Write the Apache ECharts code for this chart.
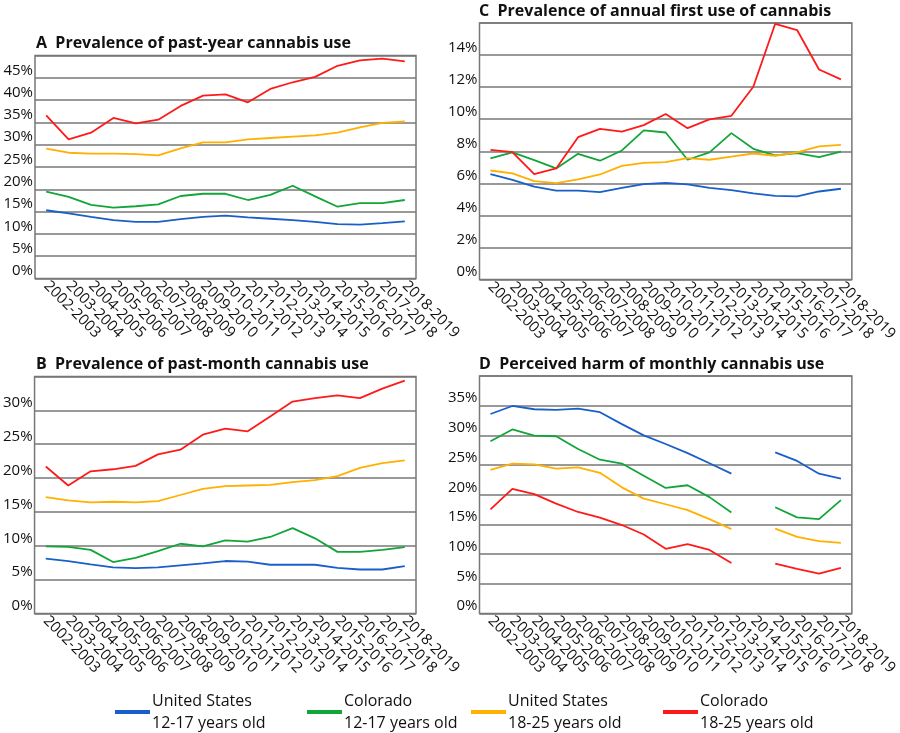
<!DOCTYPE html>
<html>
<head>
<meta charset="utf-8">
<script src="https://cdn.jsdelivr.net/npm/echarts@6/dist/echarts.min.js"></script>
<style>
html,body{margin:0;padding:0;background:#fff;}
#chart{width:900px;height:733px;}
</style>
</head>
<body>
<div id="chart"></div>
<script>
const categories = ['2002-2003','2003-2004','2004-2005','2005-2006','2006-2007','2007-2008','2008-2009','2009-2010','2010-2011','2011-2012','2012-2013','2013-2014','2014-2015','2015-2016','2016-2017','2017-2018','2018-2019'];

const seriesNames = ['United States\n12-17 years old','Colorado\n12-17 years old','United States\n18-25 years old','Colorado\n18-25 years old'];
const seriesColors = ['#1a5fc9','#12a539','#ffb000','#ff1a1a'];

// A: past-year use
const pastYearUS1217 = [15.3,14.6,13.8,13.1,12.7,12.7,13.3,13.8,14.1,13.7,13.4,13.1,12.7,12.2,12.1,12.4,12.8];
const pastYearCO1217 = [19.5,18.3,16.5,15.9,16.2,16.6,18.5,19.0,19.0,17.6,18.75,20.8,18.4,16.1,16.9,16.9,17.6];
const pastYearUS1825 = [29.1,28.2,28.0,28.0,27.9,27.6,29.2,30.5,30.5,31.2,31.5,31.8,32.1,32.7,33.9,34.9,35.2];
const pastYearCO1825 = [36.55,31.2,32.7,36.0,34.8,35.6,38.7,41.0,41.3,39.5,42.5,44.0,45.2,47.7,48.9,49.3,48.7];

// B: past-month use
const pastMonthUS1217 = [8.1,7.75,7.25,6.8,6.7,6.8,7.1,7.4,7.75,7.65,7.2,7.2,7.2,6.75,6.5,6.5,7.0];
const pastMonthCO1217 = [9.9,9.85,9.4,7.6,8.2,9.2,10.3,9.9,10.8,10.6,11.3,12.6,11.1,9.1,9.1,9.4,9.8];
const pastMonthUS1825 = [17.2,16.7,16.4,16.5,16.4,16.6,17.5,18.4,18.8,18.9,19.0,19.4,19.7,20.3,21.5,22.2,22.6];
const pastMonthCO1825 = [21.7,18.9,21.0,21.3,21.8,23.5,24.2,26.4,27.3,26.9,29.1,31.3,31.8,32.2,31.8,33.2,34.4];

// C: annual first use
const firstUseUS1217 = [6.57,6.22,5.80,5.55,5.55,5.45,5.72,5.95,6.03,5.93,5.72,5.58,5.37,5.22,5.18,5.49,5.66];
const firstUseCO1217 = [7.55,7.93,7.45,6.93,7.84,7.41,8.05,9.30,9.17,7.47,7.93,9.13,8.15,7.74,7.88,7.63,7.97];
const firstUseUS1825 = [6.80,6.62,6.14,6.01,6.24,6.55,7.09,7.28,7.32,7.57,7.47,7.66,7.86,7.72,7.93,8.30,8.40];
const firstUseCO1825 = [8.09,7.95,6.57,6.93,8.88,9.40,9.22,9.63,10.32,9.44,9.99,10.21,12.02,15.95,15.56,13.10,12.48];

// D: perceived harm
const harmUS1217 = [33.6,34.95,34.4,34.3,34.5,33.9,31.9,30.0,28.55,27.0,25.3,23.55,null,27.15,25.7,23.55,22.7];
const harmCO1217 = [29.0,31.0,29.95,29.85,27.7,25.9,25.25,23.2,21.15,21.6,19.6,17.0,null,17.9,16.2,15.9,19.1];
const harmUS1825 = [24.2,25.25,25.1,24.4,24.6,23.7,21.25,19.35,18.4,17.4,15.9,14.2,null,14.3,12.9,12.2,11.9];
const harmCO1825 = [17.55,21.0,20.1,18.5,17.1,16.15,14.9,13.3,10.9,11.7,10.7,8.5,null,8.4,7.5,6.7,7.7];

const panelTitles = ['A  Prevalence of past-year cannabis use','B  Prevalence of past-month cannabis use','C  Prevalence of annual first use of cannabis','D  Perceived harm of monthly cannabis use'];
const panelMax = [50, 35, 16, 40];
const panelInterval = [5, 5, 2, 5];

const panelData = [
  [pastYearUS1217, pastYearCO1217, pastYearUS1825, pastYearCO1825],
  [pastMonthUS1217, pastMonthCO1217, pastMonthUS1825, pastMonthCO1825],
  [firstUseUS1217, firstUseCO1217, firstUseUS1825, firstUseCO1825],
  [harmUS1217, harmCO1217, harmUS1825, harmCO1825]
];

const FONT = '"Open Sans", "DejaVu Sans", sans-serif';
const gridBoxes = [
  {left:35, top:55.5, width:381, height:223},
  {left:34.5, top:376.5, width:381.5, height:237},
  {left:479.5, top:23, width:381.5, height:256.5},
  {left:479.5, top:376, width:381.5, height:237.5}
];
const titlePos = [
  {left:36, top:32},
  {left:36, top:353},
  {left:479, top:0},
  {left:479, top:353}
];
const legendLeft = [115, 307, 471, 663];

const chart = echarts.init(document.getElementById('chart'), null, {renderer:'canvas'});

const grid = gridBoxes.map(g => Object.assign({show:true, borderColor:'#777', borderWidth:1.5, backgroundColor:'#fff', containLabel:false}, g));
const xAxis = gridBoxes.map((g,i) => ({
  type:'category', gridIndex:i, data:categories, boundaryGap:true,
  axisLine:{show:false}, axisTick:{show:false},
  axisLabel:{rotate:-45, interval:0, margin:5, fontFamily:FONT, fontSize:15, color:'#111'}
}));
const yAxis = gridBoxes.map((g,i) => ({
  type:'value', gridIndex:i, min:0, max:panelMax[i], interval:panelInterval[i],
  axisLine:{show:false}, axisTick:{show:false},
  splitLine:{show:true, lineStyle:{color:'#777', width:1.5}},
  axisLabel:{formatter:'{value}%', showMaxLabel:false, verticalAlign:'bottom', margin:2, fontFamily:FONT, fontSize:15, color:'#111'}
}));
const series = [];
panelData.forEach((arrs, p) => {
  arrs.forEach((arr, s) => {
    series.push({
      type:'line', name:seriesNames[s], xAxisIndex:p, yAxisIndex:p, data:arr,
      symbol:'none', connectNulls:false, smooth:false,
      lineStyle:{color:seriesColors[s], width:1.8}, itemStyle:{color:seriesColors[s]},
      animation:false
    });
  });
});
const title = panelTitles.map((t,i) => ({
  text:t, left:titlePos[i].left, top:titlePos[i].top, padding:0,
  textStyle:{fontFamily:FONT, fontWeight:'bold', fontSize:16, color:'#111', lineHeight:22}
}));
const legend = seriesNames.map((n,i) => ({
  data:[{name:n, icon:'rect'}], left:legendLeft[i], top:687, padding:0,
  itemWidth:35, itemHeight:4, itemGap:0, selectedMode:false,
  textStyle:{fontFamily:FONT, fontSize:16, color:'#111', lineHeight:22, padding:[0,0,6,-3]}
}));

chart.setOption({animation:false, title, legend, grid, xAxis, yAxis, series});
</script>
</body>
</html>
